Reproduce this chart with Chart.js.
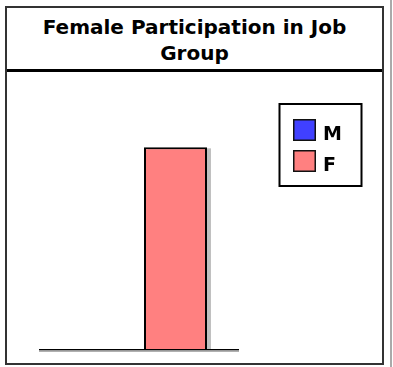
<!DOCTYPE html>
<html lang="en">
<head>
    <meta charset="UTF-8">
    <meta name="viewport" content="width=device-width, initial-scale=1">
    <title>Female Participation in Job Group</title>

    <!-- Chart.js CDN -->
    <script src="https://cdn.jsdelivr.net/npm/chart.js@4.4.0/dist/chart.umd.min.js"></script>

    <style>
        body {
            margin: 0;
            width: 393px;
            height: 367px;
            overflow: hidden;
            position: relative;
            background: #fff;
            font-family: "DejaVu Sans", Verdana, sans-serif;
        }
        .frame {
            position: absolute;
            left: 5px;
            top: 6px;
            width: 375px;
            height: 355px;
            border: 2px solid #333;
        }
        .chart-title {
            height: 54px;
            padding-top: 7px;
            border-bottom: 3px solid #000;
            text-align: center;
            font-weight: bold;
            font-size: 20px;
            line-height: 25.7px;
            color: #000;
        }
        .chart-container {
            position: relative;
            width: 375px;
            height: 291px;
        }
        .side-rule {
            position: absolute;
            left: 390px;
            top: 0;
            width: 2px;
            height: 367px;
            background: #aaa;
        }
    </style>
</head>
<body>

<div class="frame">
    <div class="chart-title">Female Participation in Job<br>Group</div>
    <div class="chart-container">
        <canvas id="jobChart"></canvas>
    </div>
</div>
<div class="side-rule"></div>

<script>
    // chart data
    const categories = ['Job Group'];
    const seriesNames = ['M', 'F'];
    const maleValues = [0];
    const femaleValues = [100];
    const seriesColors = ['#4040ff', '#ff8080'];
    const yMax = 120;

    // grey drop shadow to the right of each bar
    const barShadow = {
        id: 'barShadow',
        beforeDatasetsDraw(chart) {
            const ctx = chart.ctx;
            ctx.save();
            ctx.fillStyle = '#c0c0c0';
            chart.data.datasets.forEach((ds, i) => {
                chart.getDatasetMeta(i).data.forEach(bar => {
                    const p = bar.getProps(['x', 'y', 'base', 'width'], true);
                    const h = p.base - p.y;
                    if (h <= 1) return;
                    ctx.fillRect(p.x - p.width / 2 + 4, p.y + 1, p.width, h - 1);
                });
            });
            ctx.restore();
        }
    };

    // baseline under the bars (black line + grey shadow)
    const baseline = {
        id: 'baseline',
        afterDatasetsDraw(chart) {
            const {ctx, chartArea} = chart;
            const y = chart.scales.y.getPixelForValue(0);
            ctx.save();
            ctx.fillStyle = '#000';
            ctx.fillRect(chartArea.left, y, chartArea.width, 1.5);
            ctx.fillStyle = '#b0b0b0';
            ctx.fillRect(chartArea.left, y + 1.5, chartArea.width, 1.5);
            ctx.restore();
        }
    };

    // boxed legend in the top right corner
    const boxedLegend = {
        id: 'boxedLegend',
        afterDraw(chart) {
            const ctx = chart.ctx;
            ctx.save();
            ctx.strokeStyle = '#000';
            ctx.lineWidth = 2;
            ctx.strokeRect(272.5, 32, 82, 82);
            ctx.font = 'bold 19px "DejaVu Sans"';
            ctx.textBaseline = 'alphabetic';
            chart.data.datasets.forEach((ds, i) => {
                const top = 47 + i * 31;
                ctx.fillStyle = ds.backgroundColor;
                ctx.fillRect(286, top, 23, 22);
                ctx.lineWidth = 1.5;
                ctx.strokeStyle = '#111';
                ctx.strokeRect(286.75, top + 0.75, 21.5, 20.5);
                ctx.fillStyle = '#000';
                ctx.fillText(ds.label, 316, top + 21);
            });
            ctx.restore();
        }
    };

    new Chart(document.getElementById('jobChart'), {
        type: 'bar',
        data: {
            labels: categories,
            datasets: [
                { label: seriesNames[0], data: maleValues, backgroundColor: seriesColors[0] },
                { label: seriesNames[1], data: femaleValues, backgroundColor: seriesColors[1] }
            ]
        },
        options: {
            responsive: true,
            maintainAspectRatio: false,
            animation: false,
            events: [],
            layout: {
                padding: { left: 32, right: 143, top: 35, bottom: 14 }
            },
            datasets: {
                bar: {
                    borderColor: '#000',
                    borderWidth: 2,
                    categoryPercentage: 0.73,
                    barPercentage: 0.863
                }
            },
            plugins: {
                legend: { display: false },
                title: { display: false },
                tooltip: { enabled: false }
            },
            scales: {
                x: { display: false },
                y: { display: false, min: 0, max: yMax }
            }
        },
        plugins: [barShadow, baseline, boxedLegend]
    });
</script>

</body>
</html>
